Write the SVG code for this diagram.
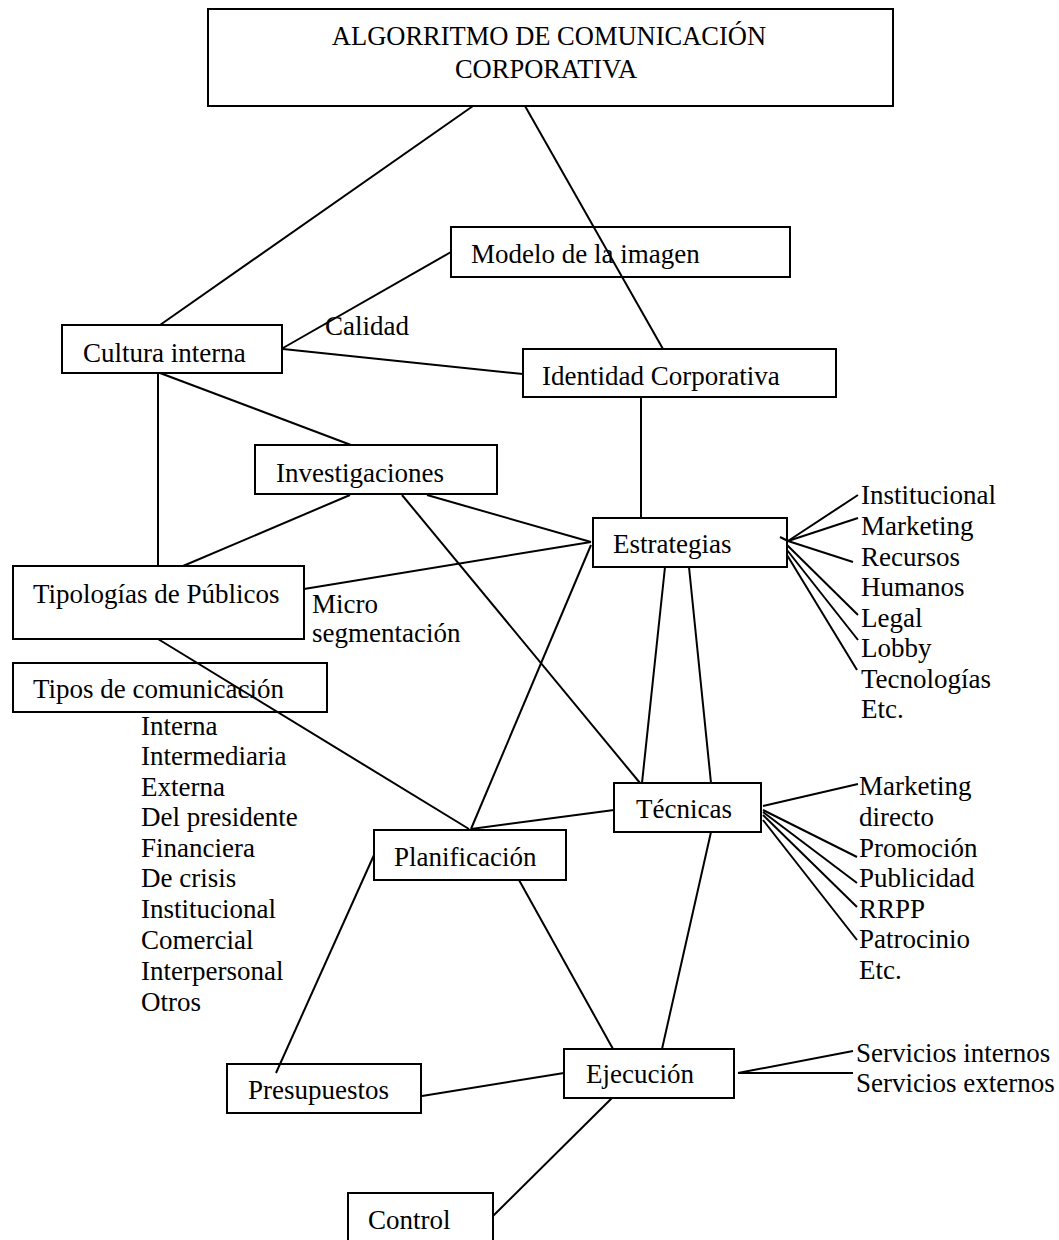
<svg xmlns="http://www.w3.org/2000/svg" width="1059" height="1240" viewBox="0 0 1059 1240">
<style>
  .box { fill: none; stroke: #000; stroke-width: 2; }
  .t { font-family: "Liberation Serif", "Times New Roman", serif; font-size: 27px; fill: #000; }
  .title { font-family: "Liberation Serif", "Times New Roman", serif; font-size: 26.5px; fill: #000; text-anchor: middle; }
  .conn line { stroke: #000; stroke-width: 2; }
</style>
<rect width="1059" height="1240" fill="#fff"/>

<g id="connectors" class="conn">
  <line x1="473" y1="106" x2="160" y2="325"/>
  <line x1="525" y1="106" x2="663" y2="349"/>
  <line x1="283" y1="348" x2="451" y2="252"/>
  <line x1="283" y1="349" x2="523" y2="374"/>
  <line x1="158" y1="373" x2="158" y2="566"/>
  <line x1="160" y1="373" x2="351" y2="445"/>
  <line x1="641" y1="397" x2="641" y2="518"/>
  <line x1="350" y1="495" x2="183" y2="566"/>
  <line x1="402" y1="495" x2="640" y2="783"/>
  <line x1="427" y1="495" x2="591" y2="542"/>
  <line x1="304" y1="589" x2="591" y2="542"/>
  <line x1="158" y1="639" x2="469" y2="829"/>
  <line x1="591" y1="545" x2="471" y2="829"/>
  <line x1="665" y1="567" x2="642" y2="783"/>
  <line x1="689" y1="567" x2="711" y2="783"/>
  <line x1="614" y1="810" x2="471" y2="829"/>
  <line x1="711" y1="832" x2="662" y2="1049"/>
  <line x1="519" y1="880" x2="613" y2="1049"/>
  <line x1="374" y1="855" x2="276" y2="1073"/>
  <line x1="422" y1="1096" x2="564" y2="1073"/>
  <line x1="612" y1="1098" x2="493" y2="1216"/>
  <line x1="738" y1="1073" x2="853" y2="1051"/>
  <line x1="738" y1="1073" x2="853" y2="1073"/>
  <!-- Estrategias fan -->
  <line x1="780" y1="537" x2="788" y2="541"/>
  <line x1="788" y1="541" x2="858" y2="495"/>
  <line x1="788" y1="541" x2="858" y2="518"/>
  <line x1="788" y1="541" x2="853" y2="562"/>
  <line x1="787" y1="545" x2="858" y2="615"/>
  <line x1="787" y1="550" x2="858" y2="640"/>
  <line x1="787" y1="555" x2="857" y2="670"/>
  <!-- Técnicas fan -->
  <line x1="763" y1="806" x2="858" y2="784"/>
  <line x1="763" y1="810" x2="857" y2="857"/>
  <line x1="763" y1="812" x2="857" y2="883"/>
  <line x1="763" y1="815" x2="857" y2="907"/>
  <line x1="763" y1="820" x2="857" y2="940"/>
</g>

<g id="title">
  <rect class="box" x="208" y="9" width="685" height="97"/>
  <text class="title" x="549" y="45">ALGORRITMO DE COMUNICACIÓN</text>
  <text class="title" x="546" y="78">CORPORATIVA</text>
</g>
<g id="modelo">
  <rect class="box" x="451" y="227" width="339" height="50"/>
  <text class="t" x="471" y="263">Modelo de la imagen</text>
</g>
<g id="calidad"><text class="t" x="325" y="335">Calidad</text></g>
<g id="cultura">
  <rect class="box" x="62" y="325" width="220" height="48"/>
  <text class="t" x="83" y="362">Cultura interna</text>
</g>
<g id="identidad">
  <rect class="box" x="523" y="349" width="313" height="48"/>
  <text class="t" x="542" y="385">Identidad Corporativa</text>
</g>
<g id="investigaciones">
  <rect class="box" x="255" y="445" width="242" height="49"/>
  <text class="t" x="276" y="482">Investigaciones</text>
</g>
<g id="estrategias">
  <rect class="box" x="593" y="518" width="194" height="49"/>
  <text class="t" x="613" y="553">Estrategias</text>
</g>
<g id="estrategias-list">
  <text class="t" x="861" y="504">Institucional</text>
  <text class="t" x="861" y="535">Marketing</text>
  <text class="t" x="861" y="566">Recursos</text>
  <text class="t" x="861" y="596">Humanos</text>
  <text class="t" x="861" y="627">Legal</text>
  <text class="t" x="861" y="657">Lobby</text>
  <text class="t" x="861" y="688">Tecnologías</text>
  <text class="t" x="861" y="718">Etc.</text>
</g>
<g id="tipologias">
  <rect class="box" x="13" y="566" width="291" height="73"/>
  <text class="t" x="33" y="603">Tipologías de Públicos</text>
</g>
<g id="micro">
  <text class="t" x="312" y="613">Micro</text>
  <text class="t" x="312" y="642">segmentación</text>
</g>
<g id="tipos">
  <rect class="box" x="13" y="663" width="314" height="49"/>
  <text class="t" x="33" y="698">Tipos de comunicación</text>
</g>
<g id="tipos-list">
  <text class="t" x="141" y="735">Interna</text>
  <text class="t" x="141" y="765">Intermediaria</text>
  <text class="t" x="141" y="796">Externa</text>
  <text class="t" x="141" y="826">Del presidente</text>
  <text class="t" x="141" y="857">Financiera</text>
  <text class="t" x="141" y="887">De crisis</text>
  <text class="t" x="141" y="918">Institucional</text>
  <text class="t" x="141" y="949">Comercial</text>
  <text class="t" x="141" y="980">Interpersonal</text>
  <text class="t" x="141" y="1011">Otros</text>
</g>
<g id="tecnicas">
  <rect class="box" x="614" y="783" width="147" height="49"/>
  <text class="t" x="636" y="818">Técnicas</text>
</g>
<g id="tecnicas-list">
  <text class="t" x="859" y="795">Marketing</text>
  <text class="t" x="859" y="826">directo</text>
  <text class="t" x="859" y="857">Promoción</text>
  <text class="t" x="859" y="887">Publicidad</text>
  <text class="t" x="859" y="918">RRPP</text>
  <text class="t" x="859" y="948">Patrocinio</text>
  <text class="t" x="859" y="979">Etc.</text>
</g>
<g id="planificacion">
  <rect class="box" x="374" y="830" width="192" height="50"/>
  <text class="t" x="394" y="866">Planificación</text>
</g>
<g id="presupuestos">
  <rect class="box" x="227" y="1064" width="194" height="49"/>
  <text class="t" x="248" y="1099">Presupuestos</text>
</g>
<g id="ejecucion">
  <rect class="box" x="564" y="1049" width="170" height="49"/>
  <text class="t" x="586" y="1083">Ejecución</text>
</g>
<g id="servicios">
  <text class="t" x="856" y="1062">Servicios internos</text>
  <text class="t" x="856" y="1092">Servicios externos</text>
</g>
<g id="control">
  <rect class="box" x="348" y="1193" width="145" height="52"/>
  <text class="t" x="368" y="1229">Control</text>
</g>
</svg>
